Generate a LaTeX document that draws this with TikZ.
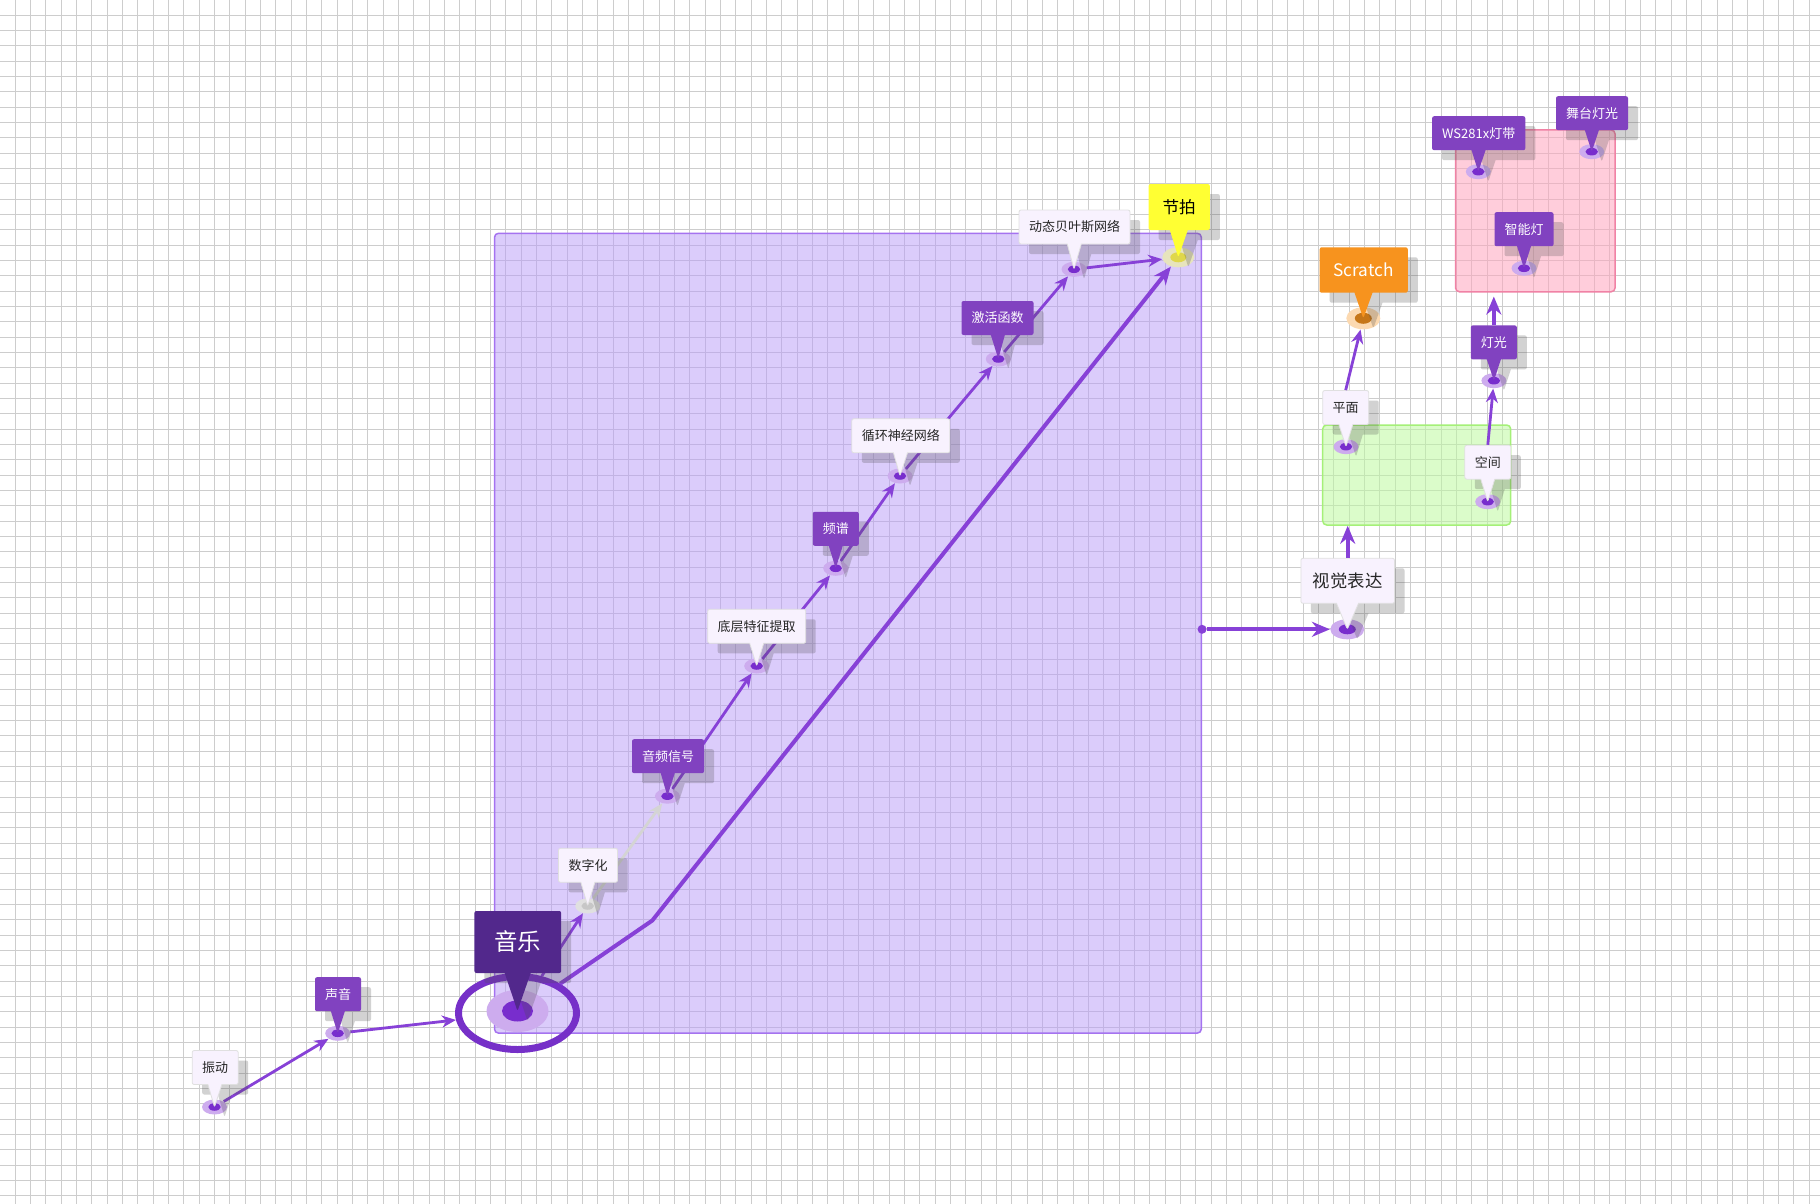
\documentclass[tikz,border=0pt]{standalone}
\usepackage{fontspec}
\setmainfont{Noto Sans CJK SC}
\usetikzlibrary{shapes.geometric,shapes.callouts,shadows,arrows.meta}

\definecolor{gridgray}{RGB}{205,205,205}
\definecolor{zonefill}{RGB}{185,155,249}
\definecolor{zoneline}{RGB}{165,115,240}
\definecolor{pinkfill}{RGB}{255,165,190}
\definecolor{pinkline}{RGB}{240,130,165}
\definecolor{greenfill}{RGB}{190,250,160}
\definecolor{greenline}{RGB}{165,240,120}
\definecolor{tagpurple}{RGB}{129,66,192}
\definecolor{tagdark}{RGB}{82,40,140}
\definecolor{taglight}{RGB}{248,242,254}
\definecolor{tagyellow}{RGB}{255,255,51}
\definecolor{tagorange}{RGB}{247,147,30}
\definecolor{linkpurple}{RGB}{135,65,215}
\definecolor{ringpurple}{RGB}{118,48,200}
\definecolor{dotout}{RGB}{205,172,238}
\definecolor{dotin}{RGB}{120,45,205}

\tikzset{
  gridline/.style={gridgray, line width=0.5pt},
  zonebox/.style={rectangle, rounded corners=2pt, line width=0.75pt, inner sep=0pt},
  blob/.style n args={4}{ellipse, fill=#1, inner sep=0pt, minimum width=#3, minimum height=#4,
    path picture={\fill[#2] (path picture bounding box.center) ellipse [x radius=0.25*#3, y radius=0.25*#4];}},
  spot/.style={blob={dotout}{dotin}{12.5pt}{7.5pt}},
  tag/.style={rectangle callout, callout pointer width=7pt, rounded corners=1pt,
    font=\fontsize{6.5}{7}\selectfont, inner xsep=5pt, inner ysep=0pt, minimum height=17pt,
    drop shadow={shadow xshift=5pt, shadow yshift=-5pt, opacity=.25, fill=black!70}},
  tagp/.style={tag, fill=tagpurple, text=white},
  tagl/.style={tag, fill=taglight, draw=black!12, line width=0.4pt, text=black!85},
  conn/.style={draw=linkpurple, line width=1.4pt, -{Stealth[length=7pt, width=6pt]}},
  connthick/.style={draw=linkpurple, line width=2pt, -{Stealth[length=9pt, width=7.5pt]}},
  conngrey/.style={conn, draw=black!17}
}

\begin{document}
\begin{tikzpicture}[x=0.5pt, y=-0.5pt]
\useasboundingbox (0,0) rectangle (1820,1204);
\fill[white] (0,0) rectangle (1820,1204);
\foreach \g in {1,...,118}
  \draw[gridline] (\g*15.333,0) -- (\g*15.333,1204);
\foreach \g in {1,...,78}
  \draw[gridline] (0,\g*15.333) -- (1820,\g*15.333);

\node[zonebox, fill=zonefill, fill opacity=.5, draw=zoneline, minimum width=353.4pt, minimum height=399.9pt] (zone) at (847.9,633.2) {};
\node[zonebox, fill=pinkfill, fill opacity=.55, draw=pinkline, minimum width=79.8pt, minimum height=80.9pt] (pink) at (1535.3,210.9) {};
\node[zonebox, fill=greenfill, fill opacity=.55, draw=greenline, minimum width=94pt, minimum height=50pt] (green) at (1416.7,475) {};

\node[spot] (m-zd) at (214.5,1107) {};
\node[spot] (m-sy) at (337.7,1033.3) {};
\node[ellipse, draw=ringpurple, line width=3.5pt, minimum width=59pt, minimum height=36.5pt] (ring) at (517.5,1013) {};
\node[blob={dotout}{dotin}{31pt}{21pt}] (m-yy) at (517.5,1011) {};
\node[blob={black!12}{black!22}{12.5pt}{7.5pt}] (m-szh) at (587.7,906) {};
\node[spot] (m-ypxh) at (667.4,796.2) {};
\node[spot] (m-dc) at (756.7,666) {};
\node[spot] (m-pp) at (835.7,568.3) {};
\node[spot] (m-xh) at (900,476) {};
\node[spot] (m-jh) at (998.3,359) {};
\node[spot] (m-dt) at (1074,269.3) {};
\node[blob={yellow!45!gray!40}{yellow!70!gray!95}{16pt}{10pt}] (m-jp) at (1178.3,257.3) {};
\node[blob={tagorange!35}{tagorange!80!black}{17pt}{11pt}] (m-sc) at (1363.3,318.3) {};
\node[spot] (m-ws) at (1478.3,171.7) {};
\node[spot] (m-wt) at (1591.7,151.7) {};
\node[spot] (m-zn) at (1524,268.3) {};
\node[spot] (m-dg) at (1493.9,380.7) {};
\node[spot] (m-pm) at (1346,446.7) {};
\node[spot] (m-kj) at (1487.7,501.7) {};
\node[blob={dotout}{dotin}{17pt}{10pt}] (m-sj) at (1347.3,629.3) {};
\coordinate (bend) at (652.3,920.5);
\node[circle, fill=linkpurple, inner sep=0pt, minimum size=4.5pt] (edge) at (zone.east |- m-sj) {};

\draw[conn] (m-zd) -- (m-sy);
\draw[conn] (m-sy) -- (ring);
\draw[conn] (ring) -- (m-szh);
\draw[conngrey] (m-szh) -- (m-ypxh);
\draw[conn] (m-ypxh) -- (m-dc);
\draw[conn] (m-dc) -- (m-pp);
\draw[conn] (m-pp) -- (m-xh);
\draw[conn] (m-xh) -- (m-jh);
\draw[conn] (m-jh) -- (m-dt);
\draw[conn] (m-dt) -- (m-jp);
\draw[connthick] (ring) -- (bend) -- (m-jp);
\draw[connthick] (edge) -- (m-sj);

\node[tagl, callout absolute pointer={(m-zd.center)}] (l-zd) at (215.2,1067.5) {振动};
\node[tagp, callout absolute pointer={(m-sy.center)}] (l-sy) at (338,994.2) {声音};
\node[tag, fill=tagdark, text=white, font=\fontsize{11.7}{12}\selectfont, inner xsep=10pt, minimum height=31pt, callout pointer width=13pt, callout absolute pointer={(m-yy.center)}] (l-yy) at (517.8,942) {音乐};
\node[tagl, callout absolute pointer={(m-szh.center)}] (l-szh) at (588,865.3) {数字化};
\node[tagp, callout absolute pointer={(m-ypxh.center)}] (l-ypxh) at (668,756.2) {音频信号};
\node[tagl, callout absolute pointer={(m-dc.center)}] (l-dc) at (756.7,626.3) {底层特征提取};
\node[tagp, callout absolute pointer={(m-pp.center)}] (l-pp) at (835.8,528.8) {频谱};
\node[tagl, callout absolute pointer={(m-xh.center)}] (l-xh) at (900.8,435.8) {循环神经网络};
\node[tagp, callout absolute pointer={(m-jh.center)}] (l-jh) at (997.5,318) {激活函数};
\node[tagl, callout absolute pointer={(m-dt.center)}] (l-dt) at (1074.5,227) {动态贝叶斯网络};
\node[tag, fill=tagyellow, text=black, font=\fontsize{8.3}{9}\selectfont, inner xsep=7pt, minimum height=23pt, callout pointer width=9pt, callout absolute pointer={(m-jp.center)}] (l-jp) at (1179.2,207) {节拍};
\node[tag, fill=tagorange, text=white, font=\fontsize{8.6}{9}\selectfont, inner xsep=7pt, minimum height=22.7pt, callout pointer width=9pt, callout absolute pointer={(m-sc.center)}] (l-sc) at (1363.7,270) {Scratch};
\node[tagp, callout absolute pointer={(m-ws.center)}] (l-ws) at (1478.7,133.2) {WS281x灯带};
\node[tagp, callout absolute pointer={(m-wt.center)}] (l-wt) at (1592,113.2) {舞台灯光};
\node[tagp, callout absolute pointer={(m-zn.center)}] (l-zn) at (1524,229.2) {智能灯};
\node[tagp, callout absolute pointer={(m-dg.center)}] (l-dg) at (1493.8,342.4) {灯光};
\node[tagl, callout absolute pointer={(m-pm.center)}] (l-pm) at (1345.7,407.5) {平面};
\node[tagl, callout absolute pointer={(m-kj.center)}] (l-kj) at (1487.8,462.2) {空间};
\node[tag, fill=taglight, draw=black!12, line width=0.4pt, text=black!85, font=\fontsize{8.7}{9}\selectfont, inner xsep=6pt, minimum height=22.5pt, callout pointer width=11pt, callout absolute pointer={(m-sj.center)}] (l-sj) at (1347.7,580.8) {视觉表达};

\draw[connthick] (l-sj.north) -- (l-sj.north |- green.south);
\draw[connthick] (l-dg.north) -- ([yshift=-2pt]l-dg.north |- pink.south);
\draw[conn] (l-pm.north) -- (m-sc);
\draw[conn] (l-kj.north) -- (m-dg);
\end{tikzpicture}
\end{document}
